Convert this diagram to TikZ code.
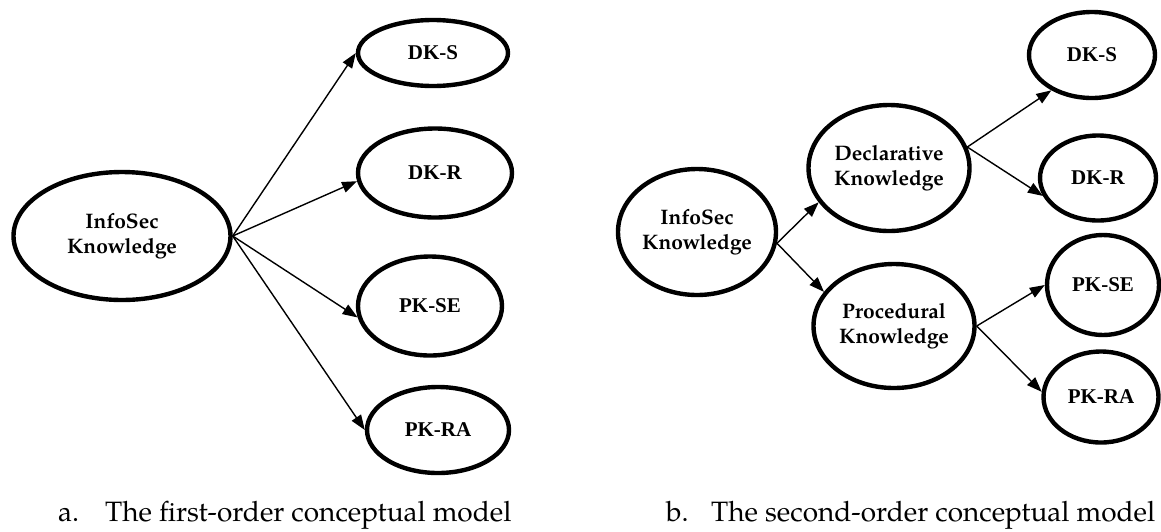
\documentclass[tikz,border=0pt]{standalone}
\usepackage{fontspec}
\setmainfont{TeX Gyre Pagella}
\newfontfamily\tmsfont{Liberation Serif}
\usetikzlibrary{shapes.geometric,arrows.meta}
\tikzset{
  ellbox/.style={ellipse, draw, line width=4.4pt, inner sep=0pt, align=center,
    font=\bfseries\fontsize{21}{25}\selectfont},
  smallell/.style={ellbox, font=\tmsfont\bfseries\fontsize{21}{25}\selectfont},
  arrline/.style={line width=1.4pt, -{Triangle[length=15pt,width=11pt]}},
  captext/.style={anchor=base west, inner sep=0pt, font=\fontsize{28}{32}\selectfont}
}
\begin{document}
\begin{tikzpicture}[x=1pt,y=-1pt]
\useasboundingbox (0,0) rectangle (1161,531);
% left model
\node[ellbox, minimum width=217pt, minimum height=128pt] (infoA) at (122,236) {InfoSec\\Knowledge};
\node[smallell, minimum width=150pt, minimum height=66pt] (dksA) at (433,53) {DK-S};
\node[smallell, minimum width=154pt, minimum height=89pt] (dkrA) at (435,173) {DK-R};
\node[smallell, minimum width=144pt, minimum height=99pt] (pkseA) at (430,306) {PK-SE};
\node[smallell, minimum width=142pt, minimum height=86pt] (pkraA) at (438,430) {PK-RA};
\draw[arrline] (infoA.east) -- (dksA.west);
\draw[arrline] (infoA.east) -- (dkrA.186);
\draw[arrline] (infoA.east) -- (pkseA.189);
\draw[arrline] (infoA.east) -- (pkraA.west);
% right model
\node[ellbox, minimum width=158pt, minimum height=126pt] (infoB) at (697,232) {InfoSec\\Knowledge};
\node[ellbox, minimum width=161pt, minimum height=126pt] (decl) at (889,168) {Declarative\\Knowledge};
\node[ellbox, minimum width=161pt, minimum height=124pt] (proc) at (894,326) {Procedural\\Knowledge};
\node[smallell, minimum width=126pt, minimum height=86pt] (dksB) at (1092,55) {DK-S};
\node[smallell, minimum width=116pt, minimum height=85pt] (dkrB) at (1098,178) {DK-R};
\node[smallell, minimum width=112pt, minimum height=100pt] (pkseB) at (1103,285) {PK-SE};
\node[smallell, minimum width=115pt, minimum height=91pt] (pkraB) at (1101,397) {PK-RA};
\draw[arrline] (infoB.-8) -- (decl.206);
\draw[arrline] (infoB.-8) -- (proc.154);
\draw[arrline] (decl.15) -- (dksB.221);
\draw[arrline] (decl.15) -- (dkrB.198);
\draw[arrline] (proc.east) -- (pkseB.west);
\draw[arrline] (proc.east) -- (pkraB.175);
% captions
\node[captext] (capA) at (58,521) {a.};
\node[captext] (capAtext) at (105,521) {The first-order conceptual model};
\node[captext] (capB) at (666,521) {b.};
\node[captext] (capBtext) at (711,521) {The second-order conceptual model};
\end{tikzpicture}
\end{document}
